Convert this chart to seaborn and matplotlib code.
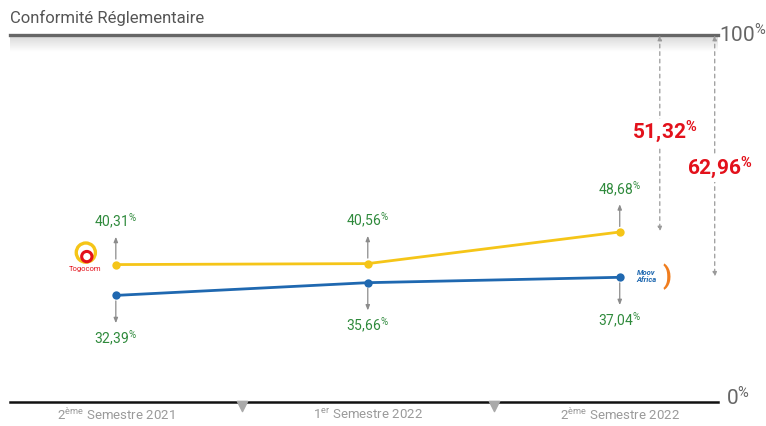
import numpy as np
import pandas as pd
import seaborn as sns
import matplotlib.pyplot as plt
import matplotlib.transforms as mtransforms

# data
periods = [r"2$^{ème}$ Semestre 2021", r"1$^{er}$ Semestre 2022", r"2$^{ème}$ Semestre 2022"]
togocom = [40.31, 40.56, 48.68]
moov = [32.39, 35.66, 37.04]
operators = ["Togocom", "Moov Africa"]
title = "Conformité Réglementaire"

sns.set_style("white")
plt.rcParams["font.family"] = ["Roboto", "DejaVu Sans"]
plt.rcParams["mathtext.fontset"] = "custom"
plt.rcParams["mathtext.rm"] = "Roboto"
plt.rcParams["mathtext.bf"] = "Roboto:bold"
plt.rcParams["mathtext.default"] = "regular"

colors = {"Togocom": "#f5c518", "Moov Africa": "#1f68b0"}
green = "#2f8a3c"
red = "#e3111b"
grey = "#8c8c8c"

df = pd.DataFrame({
    "x": list(range(len(periods))) * 2,
    "taux": togocom + moov,
    "op": [operators[0]] * len(togocom) + [operators[1]] * len(moov),
})

fig = plt.figure(figsize=(7.66, 4.26), dpi=100)
ax = fig.add_axes([10 / 766, 1 - 402 / 426, 708 / 766, 367 / 426])

# soft shadow under the top rule
grad = np.linspace(0.84, 1.0, 50).reshape(-1, 1)
ax.imshow(grad, extent=[0, 1, 0.955, 1], transform=ax.transAxes, aspect="auto",
          cmap="gray", vmin=0, vmax=1, zorder=0)

sns.lineplot(data=df, x="x", y="taux", hue="op", palette=colors, marker="o",
             markersize=6, markeredgewidth=0, linewidth=2, legend=False, ax=ax, zorder=3)

ax.set_xlim(-0.42, 2.39)
ax.set_ylim(5, 99.3)

def fmt(v):
    return f"{v:.2f}".replace(".", ",")

for vals, sign in [(togocom, 1), (moov, -1)]:
    for i, v in enumerate(vals):
        ax.annotate("", xy=(i, v), xytext=(0, sign * 20), textcoords="offset points",
                    arrowprops=dict(arrowstyle="<|-,head_length=0.3,head_width=0.12",
                                    color=grey, lw=0.9, shrinkA=0, shrinkB=4))
        ax.annotate(fmt(v) + r"$^{\%}$", xy=(i, v), xytext=(0, sign * 31),
                    textcoords="offset points", ha="center", va="center",
                    fontsize=10, color=green)

# gap to 100 %
last = len(periods) - 1
for v, xo, frac in [(togocom[last], 2.159, 0.5), (moov[last], 2.377, 0.446)]:
    gap = 100 - v
    ax.annotate("", xy=(xo, v), xycoords="data", xytext=(xo, 1),
                textcoords=("data", "axes fraction"),
                arrowprops=dict(arrowstyle="<|-|>,head_length=0.3,head_width=0.12",
                                color="#9a9a9a", lw=0.9, linestyle=(0, (3, 3)),
                                shrinkA=0, shrinkB=0))
    ax.text(xo + 0.02, v + gap * frac, fmt(gap) + r"$^{\mathbf{\%}}$", ha="center", va="center",
            fontsize=15, fontweight="bold", color=red, zorder=5,
            bbox=dict(facecolor="white", edgecolor="none", pad=0.3))

# operator marks
t_logo = mtransforms.offset_copy(ax.transData, fig=fig, x=-30, y=12, units="dots")
ax.scatter([0], [togocom[0]], s=190, facecolors="none", edgecolors="#f5c518",
           linewidths=2.4, transform=t_logo, clip_on=False, zorder=4)
ax.scatter([0], [togocom[0]], s=55, facecolors="none", edgecolors="#e3111b",
           linewidths=2.2, transform=mtransforms.offset_copy(ax.transData, fig=fig, x=-29, y=8, units="dots"),
           clip_on=False, zorder=4)
ax.annotate("Togocom", xy=(0, togocom[0]), xytext=(-22, -3), textcoords="offset points",
            ha="center", va="center", fontsize=5.5, color="#e3111b")
ax.annotate(")", xy=(last, moov[last]), xytext=(34, 0), textcoords="offset points",
            ha="center", va="center", fontsize=18, fontweight="bold", color="#f07d1e")
ax.annotate("Moov\nAfrica", xy=(last, moov[last]), xytext=(19, 1), textcoords="offset points",
            ha="center", va="center", fontsize=5.5, fontweight="bold", style="italic",
            color="#1f68b0", linespacing=0.9)

# frame
for s in ["left", "right"]:
    ax.spines[s].set_visible(False)
ax.spines["top"].set_color("#666666")
ax.spines["top"].set_linewidth(2.4)
ax.spines["bottom"].set_color("#111111")
ax.spines["bottom"].set_linewidth(1.8)
ax.set_yticks([])
ax.set_xticks(range(len(periods)))
ax.set_xticklabels(periods, fontsize=9.5, color="#9a9a9a")
ax.tick_params(axis="x", length=0, pad=4)
ax.set_xlabel("")
ax.set_ylabel("")

tb = mtransforms.blended_transform_factory(ax.transData, ax.transAxes)
mids = np.arange(len(periods) - 1) + 0.5
ax.scatter(mids, [-0.012] * len(mids), marker="v", s=55, color="#aaaaaa",
           transform=tb, clip_on=False, zorder=4)

ax.text(1.002, 1, r"100$^{\%}$", transform=ax.transAxes, ha="left", va="center",
        fontsize=15, color="#666666")
ax.text(1.012, 0.01, r"0$^{\%}$", transform=ax.transAxes, ha="left", va="center",
        fontsize=15, color="#666666")

fig.text(10 / 766, 1 - 18 / 426, title, ha="left", va="center", fontsize=12, color="#555555")

plt.savefig("out.png", dpi=100)
